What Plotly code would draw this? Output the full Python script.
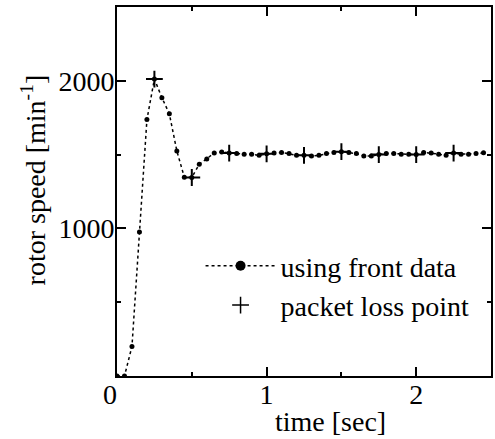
import plotly.graph_objects as go

# time [sec] sampled every 0.05 s
time_s = [0.00, 0.05, 0.10, 0.15, 0.20, 0.25, 0.30, 0.35, 0.40, 0.45,
          0.50, 0.55, 0.60, 0.65, 0.70, 0.75, 0.80, 0.85, 0.90, 0.95,
          1.00, 1.05, 1.10, 1.15, 1.20, 1.25, 1.30, 1.35, 1.40, 1.45,
          1.50, 1.55, 1.60, 1.65, 1.70, 1.75, 1.80, 1.85, 1.90, 1.95,
          2.00, 2.05, 2.10, 2.15, 2.20, 2.25, 2.30, 2.35, 2.40, 2.45]
# rotor speed using front data [min^-1]
speed_front = [0, 0, 200, 975, 1737, 2012, 1886, 1776, 1525, 1347,
               1345, 1435, 1470, 1510, 1518, 1510, 1507, 1503, 1503, 1495,
               1505, 1510, 1515, 1507, 1495, 1495, 1490, 1495, 1507, 1515,
               1520, 1515, 1507, 1490, 1490, 1500, 1507, 1507, 1503, 1503,
               1500, 1515, 1510, 1503, 1495, 1510, 1503, 1503, 1507, 1512]
# packet loss points
loss_time = [0.25, 0.50, 0.75, 1.00, 1.25, 1.50, 1.75, 2.00, 2.25]
loss_speed = [2012, 1345, 1510, 1505, 1495, 1520, 1500, 1500, 1510]

x_tickvals = [0, 1, 2]
x_ticktext = ["0\u00a0\u00a0", "1", "2"]
y_tickvals = [1000, 2000]
y_ticktext = ["1000", "2000"]

FONT = "Liberation Serif"
F28 = dict(family=FONT, size=28, color="black")

fig = go.Figure()
fig.add_trace(go.Scatter(
    x=time_s, y=speed_front, mode="lines+markers",
    line=dict(color="black", width=1.5, dash="dot"),
    marker=dict(color="black", size=5),
    showlegend=False))
fig.add_trace(go.Scatter(
    x=loss_time, y=loss_speed, mode="markers",
    marker=dict(symbol="cross-thin", size=12, line=dict(color="black", width=2)),
    showlegend=False))
# legend entries
fig.add_trace(go.Scatter(
    x=[None], y=[None], mode="lines+markers", name="using front data",
    line=dict(color="black", width=1.5, dash="dot"),
    marker=dict(color="black", size=10)))
fig.add_trace(go.Scatter(
    x=[None], y=[None], mode="markers", name="packet loss point",
    marker=dict(symbol="cross-thin", size=12, line=dict(color="black", width=1.5))))

axis_common = dict(
    showgrid=False, zeroline=False, showline=True, linecolor="black",
    linewidth=2, mirror="ticks", ticks="inside", ticklen=9, tickwidth=1.5,
    tickcolor="black", tickfont=F28,
)

fig.update_xaxes(range=[0, 2.5], tickmode="array", tickvals=x_tickvals,
                 ticktext=x_ticktext, ticklabelstandoff=-8,
                 minor=dict(tickmode="linear", tick0=0, dtick=0.5, ticks="inside",
                            ticklen=4, tickwidth=1.5, tickcolor="black"),
                 **axis_common)
fig.update_yaxes(range=[0, 2500], tickmode="array", tickvals=y_tickvals,
                 ticktext=y_ticktext, ticklabelstandoff=-5,
                 minor=dict(tickmode="linear", tick0=0, dtick=500, ticks="inside",
                            ticklen=4, tickwidth=1.5, tickcolor="black"),
                 **axis_common)

L, R, T, B = 117, 2, 7, 63
W, H = 495, 439
pw = W - L - R
ph = H - T - B

def px2paper(px, py):
    return (px - L) / pw, (H - B - py) / ph

xt_x, xt_y = px2paper(332, 421)
yt_x, yt_y = px2paper(33, 180)
lg_x, lg_y = px2paper(201, 241)

fig.update_layout(
    width=W, height=H,
    margin=dict(l=L, r=R, t=T, b=B),
    paper_bgcolor="white", plot_bgcolor="white",
    legend=dict(x=lg_x, y=lg_y, xanchor="left", yanchor="top",
                bgcolor="rgba(0,0,0,0)", font=F28,
                itemwidth=70, tracegroupgap=0),
    annotations=[
        dict(text="time [sec]", x=xt_x, y=xt_y, xref="paper", yref="paper",
             xanchor="center", yanchor="middle", showarrow=False, font=F28),
        dict(text="rotor speed [min<sup>-1</sup>]", x=yt_x, y=yt_y,
             xref="paper", yref="paper", xanchor="center", yanchor="middle",
             textangle=-90, showarrow=False, font=F28),
    ],
)

fig.write_html("out.html")
